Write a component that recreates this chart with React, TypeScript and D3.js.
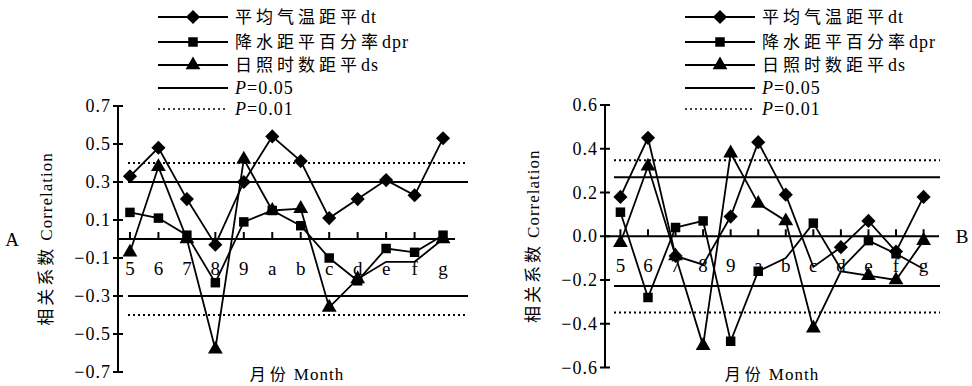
import { useEffect, useRef } from 'react'
import * as d3 from 'd3'

// month categories on the x axis
const months = ['5', '6', '7', '8', '9', 'a', 'b', 'c', 'd', 'e', 'f', 'g']

// panel A correlations
const dtA = [0.33, 0.48, 0.21, -0.03, 0.30, 0.54, 0.41, 0.11, 0.21, 0.31, 0.23, 0.53]
const dprA = [0.14, 0.11, 0.02, -0.23, 0.09, 0.15, 0.07, -0.10, -0.22, -0.05, -0.07, 0.02]
const dsA = [-0.07, 0.38, 0.0, -0.58, 0.42, 0.15, 0.16, -0.36, -0.21, -0.12, -0.12, 0.0]

// panel B correlations
const dtB = [0.18, 0.45, -0.09, -0.13, 0.09, 0.43, 0.19, -0.14, -0.05, 0.07, -0.07, 0.18]
const dprB = [0.11, -0.28, 0.04, 0.07, -0.48, -0.16, -0.10, 0.06, -0.15, -0.02, -0.08, -0.15]
const dsB = [-0.03, 0.32, -0.09, -0.50, 0.38, 0.15, 0.07, -0.42, -0.16, -0.18, -0.20, -0.02]

// months whose marker is not drawn in the original figure
const hiddenA: Record<string, string[]> = { dt: [], dpr: [], ds: ['e', 'f'] }
const hiddenB: Record<string, string[]> = { dt: ['8', 'c'], dpr: ['b', 'd', 'g'], ds: ['d'] }

// y ticks
const ticksA = [0.7, 0.5, 0.3, 0.1, -0.1, -0.3, -0.5, -0.7]
const ticksB = [0.6, 0.4, 0.2, 0.0, -0.2, -0.4, -0.6]

// significance thresholds
const solidA = [0.3, -0.3]
const dottedA = [0.4, -0.4]
const solidB = [0.27, -0.227]
const dottedB = [0.347, -0.349]

const seriesNames = [
  { key: 'dt', cn: '平均气温距平', en: 'dt', marker: 'diamond' },
  { key: 'dpr', cn: '降水距平百分率', en: 'dpr', marker: 'square' },
  { key: 'ds', cn: '日照时数距平', en: 'ds', marker: 'triangle' }
]

const LATIN = "'Liberation Serif', 'Times New Roman', 'DejaVu Serif', serif"
const CJK = "'Noto Sans CJK SC', sans-serif"

function markerPath(kind: string) {
  if (kind === 'diamond') return d3.symbol().type(d3.symbolSquare).size(100)()
  if (kind === 'square') return d3.symbol().type(d3.symbolSquare).size(90)()
  return d3.symbol().type(d3.symbolTriangle).size(95)()
}

interface PanelCfg {
  label: string
  labelX: number
  x0: number
  x1: number
  pad: number
  domain: [number, number]
  yTop: number
  yBottom: number
  ticks: number[]
  solid: number[]
  dotted: number[]
  refL: number
  refR: number
  data: Record<string, number[]>
  hidden: Record<string, string[]>
  legendX: number
  titleX: number
}

function drawPanel(svg: d3.Selection<SVGSVGElement, unknown, null, undefined>, cfg: PanelCfg) {
  const x = d3.scalePoint<string>().domain(months).range([cfg.x0, cfg.x1]).padding(cfg.pad)
  const y = d3.scaleLinear().domain(cfg.domain).range([cfg.yBottom, cfg.yTop])
  const fmt = d3.format('.1f')
  const g = svg.append('g')

  // significance lines
  cfg.solid.forEach(v => {
    g.append('line')
      .attr('x1', cfg.x0 + cfg.refL).attr('x2', cfg.x1 + cfg.refR)
      .attr('y1', y(v)).attr('y2', y(v))
      .attr('stroke', '#000').attr('stroke-width', 2)
  })
  cfg.dotted.forEach(v => {
    g.append('line')
      .attr('x1', cfg.x0 + cfg.refL).attr('x2', cfg.x1 + cfg.refR)
      .attr('y1', y(v)).attr('y2', y(v))
      .attr('stroke', '#000').attr('stroke-width', 2)
      .attr('stroke-dasharray', '2,3')
  })

  // x axis through zero, ticks pointing up
  g.append('line')
    .attr('x1', cfg.x0).attr('x2', cfg.x1)
    .attr('y1', y(0)).attr('y2', y(0))
    .attr('stroke', '#000').attr('stroke-width', 2)
  g.selectAll('.xt').data(months).enter().append('line')
    .attr('x1', d => x(d)!).attr('x2', d => x(d)!)
    .attr('y1', y(0) - 7).attr('y2', y(0))
    .attr('stroke', '#000').attr('stroke-width', 2)

  // y axis
  g.append('line')
    .attr('x1', cfg.x0).attr('x2', cfg.x0)
    .attr('y1', cfg.yTop).attr('y2', cfg.yBottom)
    .attr('stroke', '#000').attr('stroke-width', 2)
  g.selectAll('.yt').data(cfg.ticks).enter().append('line')
    .attr('x1', cfg.x0 - 5).attr('x2', cfg.x0 + 5)
    .attr('y1', d => y(d)).attr('y2', d => y(d))
    .attr('stroke', '#000').attr('stroke-width', 2)
  g.selectAll('.yl').data(cfg.ticks).enter().append('text')
    .attr('x', cfg.x0 - 7)
    .attr('y', d => y(d) + 6)
    .attr('text-anchor', 'end')
    .attr('font-family', LATIN)
    .attr('font-size', 18)
    .attr('letter-spacing', 1)
    .text(d => fmt(d))

  // series
  const line = d3.line<number>().x((_, i) => x(months[i])!).y(d => y(d))
  seriesNames.forEach(s => {
    const vals = cfg.data[s.key]
    g.append('path')
      .attr('d', line(vals))
      .attr('fill', 'none')
      .attr('stroke', '#000')
      .attr('stroke-width', 1.8)
    g.selectAll(`.m-${s.key}`)
      .data(vals.map((v, i) => ({ v, m: months[i] })).filter(d => !cfg.hidden[s.key].includes(d.m)))
      .enter().append('path')
      .attr('d', markerPath(s.marker))
      .attr('transform', d => `translate(${x(d.m)},${y(d.v)})${s.marker === 'diamond' ? ' rotate(45)' : ''}`)
      .attr('fill', '#000')
  })

  // month labels
  g.selectAll('.xl').data(months).enter().append('text')
    .attr('x', d => x(d)!)
    .attr('y', y(0) + 36)
    .attr('text-anchor', 'middle')
    .attr('font-family', LATIN)
    .attr('font-size', 19)
    .text(d => d)

  // axis titles
  const yt = g.append('text')
    .attr('transform', `translate(${cfg.x0 - 66},${(cfg.yTop + cfg.yBottom) / 2}) rotate(-90)`)
    .attr('text-anchor', 'middle')
    .attr('font-size', 17)
  yt.append('tspan').attr('font-family', CJK).attr('letter-spacing', 3).text('相关系数')
  yt.append('tspan').attr('font-family', LATIN).attr('dx', 5).attr('letter-spacing', 1).text('Correlation')

  const xt = g.append('text')
    .attr('x', cfg.titleX)
    .attr('y', 380)
    .attr('text-anchor', 'middle')
    .attr('font-size', 16)
  xt.append('tspan').attr('font-family', CJK).attr('letter-spacing', 4).text('月份')
  xt.append('tspan').attr('font-family', LATIN).attr('dx', 4).attr('font-size', 17).attr('letter-spacing', 1).text('Month')

  g.append('text')
    .attr('x', cfg.labelX)
    .attr('y', y(0) + 7)
    .attr('text-anchor', 'middle')
    .attr('font-family', LATIN)
    .attr('font-size', 19)
    .text(cfg.label)

  // legend
  const rows = [17, 42, 65, 88, 109]
  const lg = g.append('g').attr('transform', `translate(${cfg.legendX},0)`)
  seriesNames.forEach((s, i) => {
    lg.append('line')
      .attr('x1', 0).attr('x2', 70).attr('y1', rows[i]).attr('y2', rows[i])
      .attr('stroke', '#000').attr('stroke-width', 2)
    lg.append('path')
      .attr('d', markerPath(s.marker))
      .attr('transform', `translate(35,${rows[i]})${s.marker === 'diamond' ? ' rotate(45)' : ''}`)
      .attr('fill', '#000')
    const t = lg.append('text')
      .attr('x', 77).attr('y', rows[i] + 6)
      .attr('font-size', 17)
    t.append('tspan').attr('font-family', CJK).attr('letter-spacing', 4).text(s.cn)
    t.append('tspan').attr('font-family', LATIN).attr('font-size', 18).attr('letter-spacing', 1).text(s.en)
  })
  const pLabels = ['0.05', '0.01']
  pLabels.forEach((p, j) => {
    const r = rows[3 + j]
    lg.append('line')
      .attr('x1', 0).attr('x2', 70).attr('y1', r).attr('y2', r)
      .attr('stroke', '#000').attr('stroke-width', j === 0 ? 2 : 1.5)
      .attr('stroke-dasharray', j === 0 ? null : '2,3')
    const t = lg.append('text')
      .attr('x', 77).attr('y', r + 6)
      .attr('font-family', LATIN)
      .attr('font-size', 18)
      .attr('letter-spacing', 1)
    t.append('tspan').attr('font-style', 'italic').text('P')
    t.append('tspan').text('=' + p)
  })
}

export default function App() {
  const svgRef = useRef<SVGSVGElement>(null)

  useEffect(() => {
    if (!svgRef.current) return
    const svg = d3.select(svgRef.current)
    svg.selectAll('*').remove()

    drawPanel(svg, {
      label: 'A', labelX: 12,
      x0: 118, x1: 455, pad: 0.42,
      domain: [-0.7, 0.7], yTop: 106, yBottom: 372,
      ticks: ticksA, solid: solidA, dotted: dottedA,
      refL: 10, refR: 13,
      data: { dt: dtA, dpr: dprA, ds: dsA },
      hidden: hiddenA,
      legendX: 158, titleX: 297
    })
    drawPanel(svg, {
      label: 'B', labelX: 962,
      x0: 605, x1: 939, pad: 0.56,
      domain: [-0.6, 0.6], yTop: 105, yBottom: 367.5,
      ticks: ticksB, solid: solidB, dotted: dottedB,
      refL: 9, refR: 1,
      data: { dt: dtB, dpr: dprB, ds: dsB },
      hidden: hiddenB,
      legendX: 685, titleX: 772
    })
  }, [])

  return (
    <svg
      ref={svgRef}
      width={972}
      height={386}
      style={{ position: 'absolute', left: 0, top: 0, background: '#fff' }}
    />
  )
}
